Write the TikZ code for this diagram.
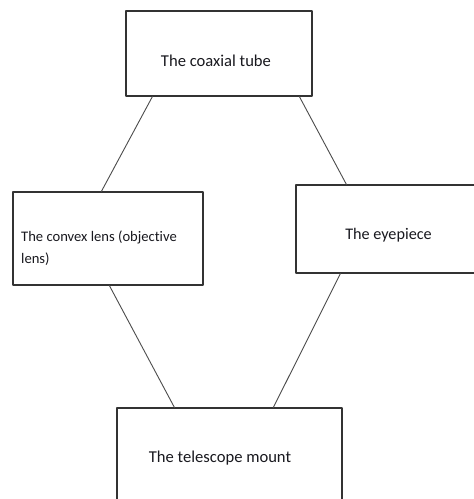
\documentclass[tikz,border=0pt]{standalone}
\usepackage{fontspec}
\setmainfont[Ligatures=NoCommon]{Carlito}
\usepackage{tikz}
\definecolor{boxgray}{rgb}{0.2,0.2,0.2}
\definecolor{linegray}{rgb}{0.3,0.3,0.3}
\definecolor{txtdark}{rgb}{0.1,0.1,0.12}
\tikzset{
  partbox/.style={draw=boxgray,line width=1.2pt,rectangle,inner sep=0pt},
  parttext/.style={text=txtdark,font=\fontsize{16.6}{20}\selectfont,inner sep=0pt},
  link/.style={draw=linegray,line width=0.9pt}
}
\begin{document}
\begin{tikzpicture}[line cap=round,line join=round,x=1pt,y=-1pt]
\clip (0,0) rectangle (474,499);
\fill[white] (0,0) rectangle (474,499);
% boxes
\node [partbox,minimum width=186pt,minimum height=85pt] (tube) at (219,53.5) {};
\node [partbox,minimum width=190pt,minimum height=93pt] (lens) at (108,238.5) {};
\node [partbox,minimum width=200pt,minimum height=88pt] (eye) at (396,229) {};
\node [partbox,minimum width=225pt,minimum height=120pt] (mount) at (229.5,468) {};
% texts
\node [parttext] (tubetext) at (216,61) {The coaxial tube};
\node [parttext,anchor=west,align=left,font=\fontsize{14.6}{22}\selectfont] (lenstext) at (21,248) {The convex lens (objective\\lens)};
\node [parttext,font=\fontsize{16.2}{20}\selectfont] (eyetext) at (388.5,235) {The eyepiece};
\node [parttext] (mounttext) at (220,458) {The telescope mount};
% connectors
\draw [link] ([xshift=27pt]tube.south west) -- ([xshift=89pt]lens.north west);
\draw [link] ([xshift=174pt]tube.south west) -- ([xshift=51pt]eye.north west);
\draw [link] ([xshift=97pt]lens.south west) -- ([xshift=58pt]mount.north west);
\draw [link] ([xshift=45pt]eye.south west) -- ([xshift=157pt]mount.north west);
\end{tikzpicture}
\end{document}
